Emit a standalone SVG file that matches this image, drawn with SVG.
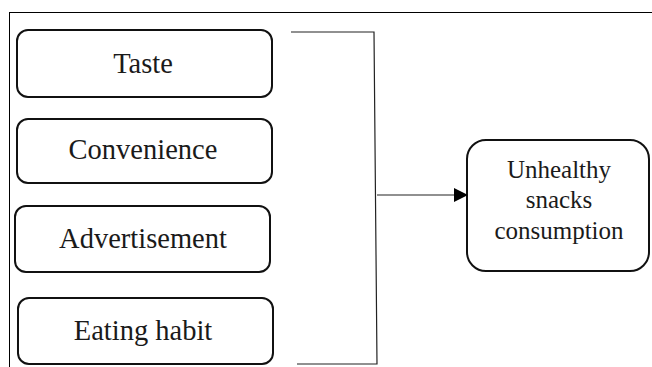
<svg xmlns="http://www.w3.org/2000/svg" width="652" height="367" viewBox="0 0 652 367">
<style>
.box{fill:#fff;stroke:#111;stroke-width:2}
.t{font-family:"Liberation Serif","Times New Roman",serif;fill:#1a1a1a;text-anchor:middle}
.l{font-size:28.5px}
.r{font-size:25px}
.ln{fill:none;stroke:#222;stroke-width:1.2}
</style>
<defs>
<marker id="ah" markerWidth="14" markerHeight="14" refX="13" refY="7" orient="auto" markerUnits="userSpaceOnUse">
<path d="M0,0 L14,7 L0,14 Z" fill="#000"/>
</marker>
</defs>
<rect width="652" height="367" fill="#fff"/>
<g id="frame">
<line x1="9" y1="12.5" x2="652" y2="12.5" stroke="#000" stroke-width="1"/>
<line x1="9.5" y1="12" x2="9.5" y2="367" stroke="#000" stroke-width="1"/>
</g>
<g id="taste">
<rect class="box" x="17" y="30" width="255" height="67" rx="11"/>
<text class="t l" x="143" y="73">Taste</text>
</g>
<g id="convenience">
<rect class="box" x="17" y="119" width="255" height="64" rx="11"/>
<text class="t l" x="143" y="159">Convenience</text>
</g>
<g id="advertisement">
<rect class="box" x="15" y="206" width="255" height="66" rx="11"/>
<text class="t l" x="143" y="248">Advertisement</text>
</g>
<g id="eating-habit">
<rect class="box" x="18" y="298" width="255" height="66" rx="11"/>
<text class="t l" x="143" y="340">Eating habit</text>
</g>
<g id="unhealthy">
<rect class="box" x="467" y="140" width="182" height="131" rx="19"/>
<text class="t r" x="559" y="178">Unhealthy</text>
<text class="t r" x="559" y="208">snacks</text>
<text class="t r" x="559" y="239">consumption</text>
</g>
<g id="connectors">
<polyline class="ln" points="291,32 374,32 377,364 297,364"/>
<line class="ln" x1="377" y1="195" x2="467" y2="195" marker-end="url(#ah)"/>
</g>
</svg>
